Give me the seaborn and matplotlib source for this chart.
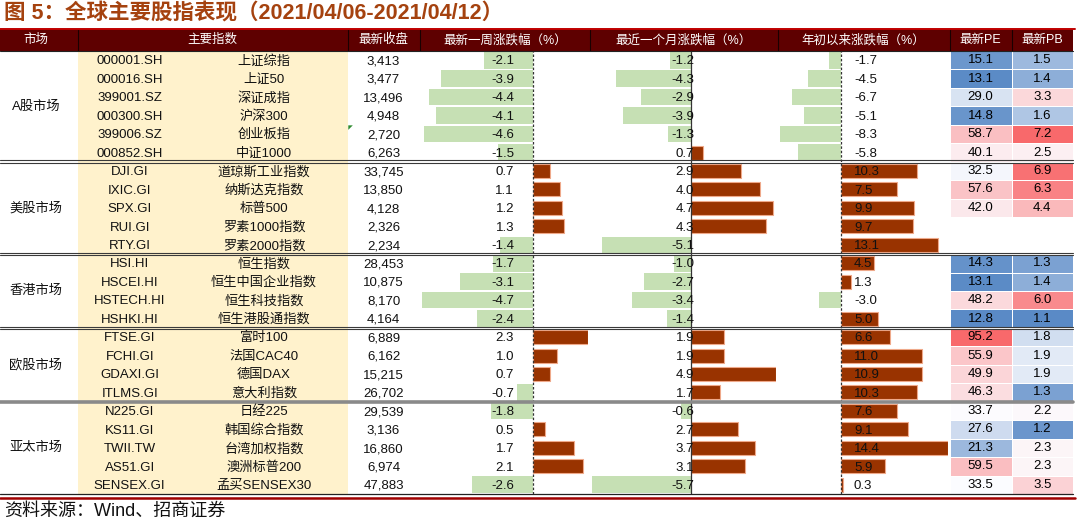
import numpy as np
import pandas as pd
import matplotlib
matplotlib.use("Agg")
import matplotlib.pyplot as plt
from matplotlib.colors import LinearSegmentedColormap, TwoSlopeNorm
import seaborn as sns

sns.set_theme(style="white")
plt.rcParams["font.family"] = ["Liberation Sans", "Noto Sans CJK SC", "DejaVu Sans"]

# -----------------------------------------------------------------------------
# data
# -----------------------------------------------------------------------------
markets = ["A股市场", "美股市场", "香港市场", "欧股市场", "亚太市场"]
group_sizes = [6, 5, 4, 4, 5]

codes = ["000001.SH", "000016.SH", "399001.SZ", "000300.SH", "399006.SZ", "000852.SH",
         "DJI.GI", "IXIC.GI", "SPX.GI", "RUI.GI", "RTY.GI",
         "HSI.HI", "HSCEI.HI", "HSTECH.HI", "HSHKI.HI",
         "FTSE.GI", "FCHI.GI", "GDAXI.GI", "ITLMS.GI",
         "N225.GI", "KS11.GI", "TWII.TW", "AS51.GI", "SENSEX.GI"]
names = ["上证综指", "上证50", "深证成指", "沪深300", "创业板指", "中证1000",
         "道琼斯工业指数", "纳斯达克指数", "标普500", "罗素1000指数", "罗素2000指数",
         "恒生指数", "恒生中国企业指数", "恒生科技指数", "恒生港股通指数",
         "富时100", "法国CAC40", "德国DAX", "意大利指数",
         "日经225", "韩国综合指数", "台湾加权指数", "澳洲标普200", "孟买SENSEX30"]
close = [3413, 3477, 13496, 4948, 2720, 6263,
         33745, 13850, 4128, 2326, 2234,
         28453, 10875, 8170, 4164,
         6889, 6162, 15215, 26702,
         29539, 3136, 16860, 6974, 47883]
week = [-2.1, -3.9, -4.4, -4.1, -4.6, -1.5,
        0.7, 1.1, 1.2, 1.3, -1.4,
        -1.7, -3.1, -4.7, -2.4,
        2.3, 1.0, 0.7, -0.7,
        -1.8, 0.5, 1.7, 2.1, -2.6]
month = [-1.2, -4.3, -2.9, -3.9, -1.3, 0.7,
         2.9, 4.0, 4.7, 4.3, -5.1,
         -1.0, -2.7, -3.4, -1.4,
         1.9, 1.9, 4.9, 1.7,
         -0.6, 2.7, 3.7, 3.1, -5.7]
ytd = [-1.7, -4.5, -6.7, -5.1, -8.3, -5.8,
       10.3, 7.5, 9.9, 9.7, 13.1,
       4.5, 1.3, -3.0, 5.0,
       6.6, 11.0, 10.9, 10.3,
       7.6, 9.1, 14.4, 5.9, 0.3]
pe = [15.1, 13.1, 29.0, 14.8, 58.7, 40.1,
      32.5, 57.6, 42.0, np.nan, np.nan,
      14.3, 13.1, 48.2, 12.8,
      95.2, 55.9, 49.9, 46.3,
      33.7, 27.6, 21.3, 59.5, 33.5]
pb = [1.5, 1.4, 3.3, 1.6, 7.2, 2.5,
      6.9, 6.3, 4.4, np.nan, np.nan,
      1.3, 1.4, 6.0, 1.1,
      1.8, 1.9, 1.9, 1.3,
      2.2, 1.2, 2.3, 2.3, 3.5]

# -----------------------------------------------------------------------------
# layout (pixels)
# -----------------------------------------------------------------------------
W, H = 1080, 527
HEAD_TOP, TOP, BOTTOM = 28.5, 51, 494
N = len(codes)
ROW_H = (BOTTOM - TOP) / N
RIGHT = 1073
cols = [0, 77.5, 347.8, 420, 590, 778, 949.5, 1011.7, RIGHT]

MAROON = "#5E0000"
GREEN = "#C6E0B4"
BROWN = "#993300"
BEIGE = "#FFF2CC"
INK = "#111111"


def box(x0, x1, y0, y1):
    return [x0 / W, 1 - y1 / H, (x1 - x0) / W, (y1 - y0) / H]


def row_y(i):
    return TOP + (i + 0.5) * ROW_H + 1.2


fig = plt.figure(figsize=(W / 100, H / 100), dpi=100)

bg = fig.add_axes([0, 0, 1, 1], zorder=0)
bg.set_xlim(0, W)
bg.set_ylim(H, 0)
bg.axis("off")

# beige index column + header band
bg.add_patch(plt.Rectangle((cols[1], TOP), cols[2] - cols[1], BOTTOM - TOP,
                           color=BEIGE, lw=0))
bg.add_patch(plt.Rectangle((0, HEAD_TOP), RIGHT, TOP - HEAD_TOP, color=MAROON, lw=0))

# -----------------------------------------------------------------------------
# data bars (axis spans min..max of each column, like excel data bars)
# -----------------------------------------------------------------------------
bar_cols = [(week, 3, "dash"), (month, 4, "solid"), (ytd, 5, "dash")]
ypos = np.arange(N)
for values, c, style in bar_cols:
    ax = fig.add_axes(box(cols[c] + 2, cols[c + 1] - 2, TOP, BOTTOM), zorder=1)
    vals = np.array(values)
    neg = vals < 0
    ax.barh(ypos[neg], vals[neg], height=0.9, color=GREEN, lw=0)
    ax.barh(ypos[~neg], vals[~neg], height=0.76, color=BROWN,
            edgecolor="#EFA98A", lw=0.8)
    ax.set_xlim(vals.min(), vals.max())
    ax.set_ylim(N - 0.5, -0.5)
    ls = (0, (2, 1.5)) if style == "dash" else "-"
    ax.axvline(0, color="#333333", lw=0.9, ls=ls)
    ax.axis("off")
    ax.patch.set_visible(False)

# -----------------------------------------------------------------------------
# PE / PB colour scale (3-colour, median midpoint)
# -----------------------------------------------------------------------------
cmap = LinearSegmentedColormap.from_list("scale3", ["#5A8AC6", "#FCFCFF", "#F8696B"])
for values, c, label in [(pe, 6, "PE"), (pb, 7, "PB")]:
    ax = fig.add_axes(box(cols[c], cols[c + 1], TOP, BOTTOM), zorder=1)
    df = pd.DataFrame({label: values})
    norm = TwoSlopeNorm(vmin=np.nanmin(values), vcenter=np.nanmedian(values),
                        vmax=np.nanmax(values))
    sns.heatmap(df, ax=ax, cmap=cmap, norm=norm, annot=True, fmt=".1f", cbar=False,
                linewidths=0.6, linecolor="white", xticklabels=False, yticklabels=False,
                annot_kws={"color": "black", "fontsize": 9.5})
    ax.set_ylabel("")
    ax.set_xlabel("")

# -----------------------------------------------------------------------------
# text + rules on top
# -----------------------------------------------------------------------------
top = fig.add_axes([0, 0, 1, 1], zorder=2)
top.set_xlim(0, W)
top.set_ylim(H, 0)
top.axis("off")
top.patch.set_visible(False)

top.text(4, 14, "图 5：全球主要股指表现（2021/04/06-2021/04/12）", fontsize=15.5,
         fontweight="bold", color="#A5420F", va="center", ha="left")
top.text(4, 511, "资料来源：Wind、招商证券", fontsize=13, color=INK,
         va="center", ha="left")

headers = ["市场", "主要指数", "最新收盘", "最新一周涨跌幅（%）", "最近一个月涨跌幅（%）",
           "年初以来涨跌幅（%）", "最新PE", "最新PB"]
head_x = [36] + [(cols[k] + cols[k + 1]) / 2 for k in range(1, 8)]
for txt, x in zip(headers, head_x):
    top.text(x, (HEAD_TOP + TOP) / 2 + 0.5, txt, color="white", fontsize=9,
             ha="center", va="center")
top.plot([0, RIGHT + 2], [HEAD_TOP, HEAD_TOP], color="#C00000", lw=1.4)
for x in cols[1:-1]:
    top.plot([x, x], [HEAD_TOP + 1, TOP], color="#1A0000", lw=0.8)
top.plot([0, RIGHT], [TOP, TOP], color="#222222", lw=0.8)

for i in range(N):
    y = row_y(i)
    top.text(129.7, y, codes[i], fontsize=9.5, ha="center", va="center", color=INK)
    top.text(264, y, names[i], fontsize=9.5, ha="center", va="center", color=INK)
    top.text(383.5, y, f"{close[i]:,}", fontsize=9.5, ha="center", va="center", color=INK)
    top.text(514, y, f"{week[i]:.1f}", fontsize=9.5, ha="right", va="center", color=INK)
    top.text(694, y, f"{month[i]:.1f}", fontsize=9.5, ha="right", va="center", color=INK)
    top.text(854, y, f"{ytd[i]:.1f}", fontsize=9.5, ha="left", va="center", color=INK)

# small excel error marker
top.fill([cols[2] + 0.5, cols[2] + 5, cols[2] + 0.5],
         [TOP + 4 * ROW_H + 0.5, TOP + 4 * ROW_H + 0.5, TOP + 4 * ROW_H + 5],
         color="#2E8B2E", lw=0)

start = 0
for mk, n in zip(markets, group_sizes):
    yc = TOP + (start + n / 2) * ROW_H
    top.text(36, yc, mk, fontsize=9.5, ha="center", va="center", color=INK)
    start += n
    yb = TOP + start * ROW_H
    if start == N:
        break
    if mk == "欧股市场":
        top.plot([0, RIGHT], [yb, yb], color="#8A8A8A", lw=2.6)
    else:
        top.plot([0, RIGHT], [yb - 1.3, yb - 1.3], color="#3A3A3A", lw=0.8)
        top.plot([0, RIGHT], [yb + 1.3, yb + 1.3], color="#3A3A3A", lw=0.8)

top.plot([0, RIGHT], [BOTTOM, BOTTOM], color="#222222", lw=0.9)
top.plot([0, RIGHT + 2], [BOTTOM + 3.8, BOTTOM + 3.8], color="#A00000", lw=1.8)

fig.savefig("out.png", dpi=100)
